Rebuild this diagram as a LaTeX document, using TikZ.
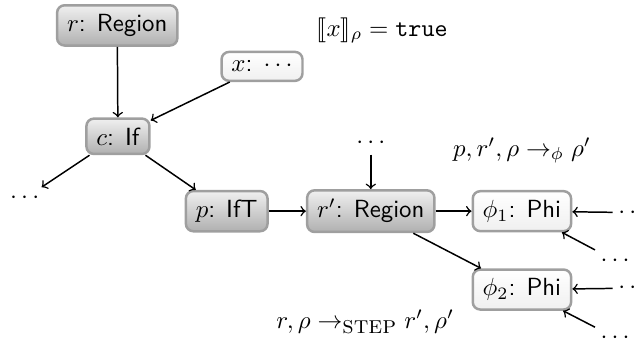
\documentclass[tikz,border=0pt]{standalone}
\usepackage{stmaryrd}
\begin{document}
\begin{tikzpicture}[x=1cm, y=1cm, >=to, semithick,
    oscuro/.style={rectangle, rounded corners=3pt, draw=gray!75, line width=1pt, top color=gray!12, bottom color=gray!62, inner xsep=4pt, inner ysep=3.6pt, font=\sffamily},
    claro/.style={rectangle, rounded corners=3pt, draw=gray!75, line width=1pt, top color=white, bottom color=gray!12, inner xsep=4pt, inner ysep=3.6pt, font=\sffamily},
    puntos/.style={inner sep=2pt}]
        \useasboundingbox (0, 0) rectangle (9.09, 4.89);
        % parte de arriba
        \node[oscuro] (r) at (1.66, 4.53) {$r$: Region};
        \node[claro] (x) at (3.71, 3.95) {$x$: $\cdots$};
        \node[oscuro] (c) at (1.67, 2.96) {$c$: If};
        \node[puntos] (izq) at (0.35, 2.08) {$\cdots$};
        \node (cond) at (5.41, 4.46) {$\llbracket x\rrbracket_\rho = \texttt{true}$};
        \draw[->] (r) -- (c);
        \draw[->] (x) -- (c);
        \draw[->] (c) -- (izq);
        % rama del if
        \node[oscuro] (p) at (3.21, 1.90) {$p$: IfT};
        \node[oscuro] (rp) at (5.25, 1.90) {$r'$: Region};
        \node[puntos] (arr) at (5.25, 2.86) {$\cdots$};
        \draw[->] (c) -- (p);
        \draw[->] (p) -- (rp);
        \draw[->] (arr) -- (rp);
        % nodos phi
        \node[claro] (phia) at (7.39, 1.90) {$\phi_1$: Phi};
        \node[claro] (phib) at (7.39, 0.79) {$\phi_2$: Phi};
        \draw[->] (rp) -- (phia);
        \draw[->] (rp) -- (phib);
        \node[puntos] (da) at (8.96, 1.88) {$\cdots$};
        \node[puntos] (db) at (8.71, 1.20) {$\cdots$};
        \node[puntos] (dc) at (8.96, 0.81) {$\cdots$};
        \node[puntos] (dd) at (8.71, 0.11) {$\cdots$};
        \draw[->] (da) -- (phia);
        \draw[->] (db) -- (phia);
        \draw[->] (dc) -- (phib);
        \draw[->] (dd) -- (phib);
        % reglas
        \node (rphi) at (7.39, 2.76) {$p, r', \rho \to_\phi \rho'$};
        \node (rstep) at (5.17, 0.33) {$r, \rho \to_{\textsc{step}} r', \rho'$};
    \end{tikzpicture}
\end{document}
